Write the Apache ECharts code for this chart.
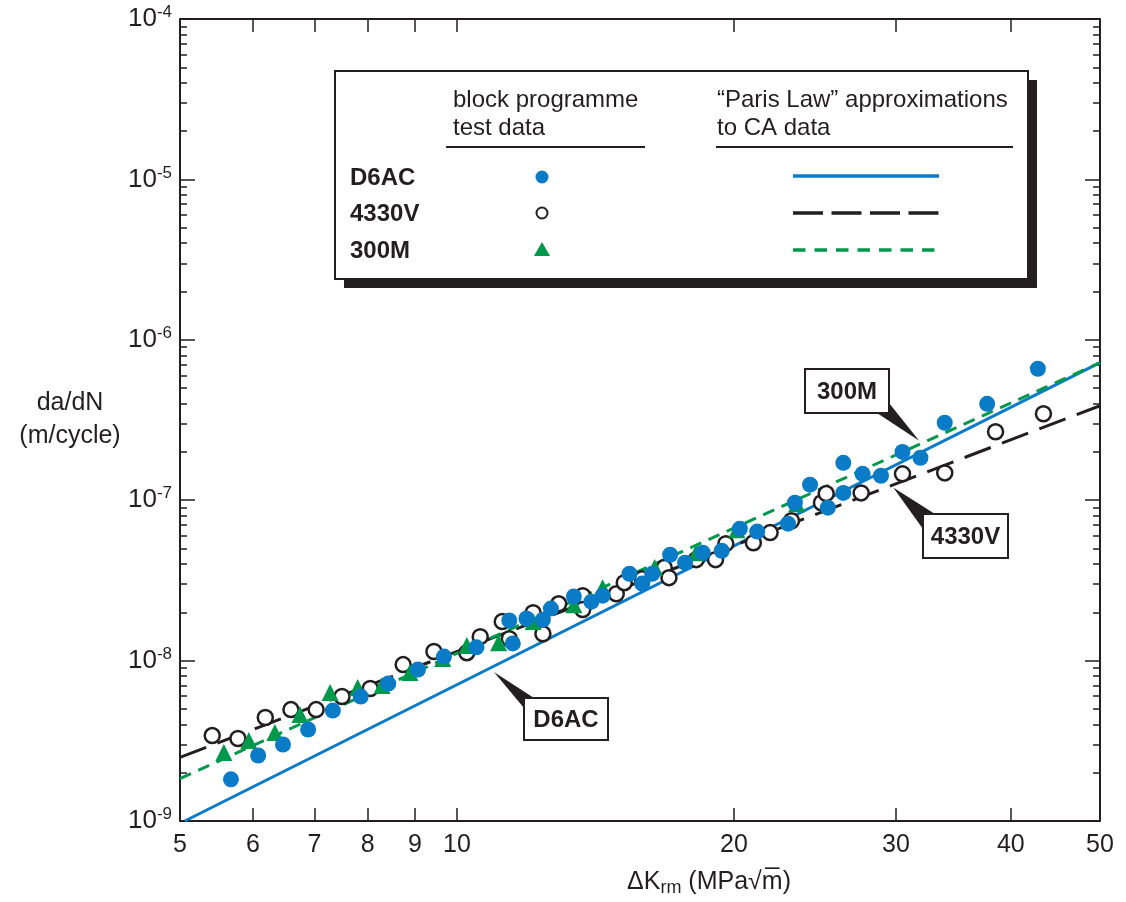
<!DOCTYPE html>
<html>
<head>
<meta charset="utf-8">
<script src="https://cdn.jsdelivr.net/npm/echarts@6/dist/echarts.min.js"></script>
<style>
html,body{margin:0;padding:0;background:#fff;}
#c{width:1126px;height:902px;}
</style>
</head>
<body>
<div id="c"></div>
<script>
// ---- tick values ----
const xTicks = [5, 6, 7, 8, 9, 10, 20, 30, 40, 50];
const yMajor = [1e-9, 1e-8, 1e-7, 1e-6, 1e-5, 1e-4];
const yMinorMult = [2, 3, 4, 5, 6, 7, 8, 9];

// ---- block programme test data (ΔK, da/dN) ----
const d6acK = [5.68, 6.08, 6.47, 6.89, 7.33, 7.86, 8.42, 9.07, 9.68, 10.5,
  11.4, 11.5, 11.9, 12.4, 12.65, 13.4, 14.0, 14.4, 15.4, 15.9,
  16.3, 17.05, 17.7, 18.5, 19.4, 20.3, 21.2, 22.9, 23.3, 24.2,
  25.3, 26.3, 26.3, 27.6, 28.9, 30.5, 31.9, 33.9, 37.7, 42.8];
const d6acRate = [1.82e-9, 2.56e-9, 3.0e-9, 3.72e-9, 4.88e-9, 5.97e-9, 7.19e-9, 8.79e-9, 1.06e-8, 1.21e-8,
  1.78e-8, 1.28e-8, 1.83e-8, 1.80e-8, 2.11e-8, 2.51e-8, 2.33e-8, 2.54e-8, 3.48e-8, 3.02e-8,
  3.48e-8, 4.57e-8, 4.08e-8, 4.71e-8, 4.84e-8, 6.64e-8, 6.37e-8, 7.14e-8, 9.64e-8, 1.25e-7,
  8.98e-8, 1.11e-7, 1.71e-7, 1.46e-7, 1.42e-7, 2.0e-7, 1.84e-7, 3.04e-7, 3.99e-7, 6.6e-7];

const v4330K = [5.42, 5.78, 6.19, 6.60, 7.03, 7.50, 8.05, 8.74, 9.44, 10.25,
  10.6, 11.2, 11.4, 12.1, 12.4, 12.9, 13.7, 13.7, 14.9, 15.2,
  15.9, 16.8, 17.0, 18.2, 19.1, 19.6, 21.0, 21.9, 23.1, 24.9,
  25.2, 27.5, 30.5, 33.9, 38.5, 43.4];
const v4330Rate = [3.41e-9, 3.27e-9, 4.42e-9, 4.95e-9, 4.95e-9, 5.97e-9, 6.70e-9, 9.44e-9, 1.14e-8, 1.12e-8,
  1.41e-8, 1.75e-8, 1.37e-8, 1.99e-8, 1.47e-8, 2.26e-8, 2.54e-8, 2.08e-8, 2.61e-8, 3.06e-8,
  3.24e-8, 3.80e-8, 3.29e-8, 4.26e-8, 4.26e-8, 5.36e-8, 5.43e-8, 6.28e-8, 7.45e-8, 9.64e-8,
  1.10e-7, 1.11e-7, 1.46e-7, 1.48e-7, 2.67e-7, 3.46e-7];

const m300K = [5.58, 5.94, 6.34, 6.75, 7.28, 7.80, 8.29, 8.89, 9.65, 10.25,
  11.1, 12.1, 13.4, 14.4, 16.4, 18.2, 20.15, 23.4];
const m300Rate = [2.67e-9, 3.18e-9, 3.56e-9, 4.61e-9, 6.32e-9, 6.79e-9, 6.99e-9, 8.42e-9, 1.03e-8, 1.24e-8,
  1.29e-8, 1.75e-8, 2.23e-8, 2.85e-8, 3.80e-8, 4.71e-8, 6.55e-8, 9.51e-8];

// ---- "Paris Law" approximations to CA data (end points of straight log-log lines) ----
const d6acFitK = [5.06, 50];
const d6acFitRate = [1.0e-9, 7.2e-7];
const v4330FitK = [5, 50];
const v4330FitRate = [2.49e-9, 3.88e-7];
const m300FitK = [5, 50];
const m300FitRate = [1.84e-9, 7.2e-7];

// ---- annotation anchor points (ΔK, da/dN) of callout pointers ----
const calloutNames = ['D6AC', '300M', '4330V'];
const calloutTipK = [10.97, 31.8, 29.8];
const calloutTipRate = [8.5e-9, 2.35e-7, 1.20e-7];

const BLUE = '#0a7bc6', GREEN = '#00984a', INK = '#231f20';
const FONT = '"Liberation Sans", Arial, Helvetica, sans-serif';

const pairs = (xs, ys) => xs.map((x, i) => [x, ys[i]]);
const yMinor = [];
yMajor.slice(0, -1).forEach(d => yMinorMult.forEach(m => yMinor.push(d * m)));

const chart = echarts.init(document.getElementById('c'), null, {renderer: 'canvas'});

const lineStyleAxis = {color: INK, width: 2};
const tickStyle = {color: INK, width: 1.5};
const xBase = {type: 'log', logBase: 10, min: 5, max: 50, splitLine: {show: false},
  minorTick: {show: false}, minorSplitLine: {show: false}};
const yBase = {type: 'log', logBase: 10, min: 1e-9, max: 1e-4, splitLine: {show: false},
  minorTick: {show: false}, minorSplitLine: {show: false}};

const option = {
  animation: false,
  backgroundColor: '#fff',
  grid: {left: 180, top: 19, width: 920, height: 802, outerBoundsMode: 'none'},
  xAxis: [
    Object.assign({}, xBase, {
      position: 'bottom',
      axisLine: {show: true, onZero: false, lineStyle: lineStyleAxis},
      axisTick: {show: true, inside: true, length: 13, customValues: xTicks, lineStyle: tickStyle},
      axisLabel: {show: true, customValues: xTicks, margin: 12, fontFamily: FONT, fontSize: 25, color: INK},
      name: 'ΔK{sub|rm} (MPa√m\u0305)',
      nameLocation: 'middle',
      nameGap: 61,
      nameTextStyle: {fontFamily: FONT, fontSize: 25, color: INK, verticalAlign: 'middle',
        padding: [0, 0, 0, 138],
        rich: {sub: {fontFamily: FONT, fontSize: 18, color: INK, padding: [12, 0, 0, 0]}}}
    }),
    Object.assign({}, xBase, {
      position: 'top',
      axisLine: {show: true, onZero: false, lineStyle: lineStyleAxis},
      axisTick: {show: true, inside: true, length: 13, customValues: xTicks, lineStyle: tickStyle},
      axisLabel: {show: false}
    })
  ],
  yAxis: [
    Object.assign({}, yBase, {
      position: 'left',
      axisLine: {show: true, onZero: false, lineStyle: lineStyleAxis},
      axisTick: {show: true, inside: true, length: 15, customValues: yMajor, lineStyle: tickStyle},
      axisLabel: {show: true, customValues: yMajor, margin: 8,
        formatter: v => '{b|10}{s|' + Math.round(Math.log10(v)) + '}',
        rich: {
          b: {fontFamily: FONT, fontSize: 26, color: INK},
          s: {fontFamily: FONT, fontSize: 17, color: INK, padding: [0, 0, 13, 0]}
        }},
      name: 'da/dN\n(m/cycle)',
      nameLocation: 'middle',
      nameRotate: 0,
      nameGap: 110,
      nameTextStyle: {fontFamily: FONT, fontSize: 25, color: INK, align: 'center',
        verticalAlign: 'middle', lineHeight: 33}
    }),
    Object.assign({}, yBase, {
      position: 'left',
      axisLine: {show: false},
      axisTick: {show: true, inside: true, length: 7, customValues: yMinor, lineStyle: tickStyle},
      axisLabel: {show: false}
    }),
    Object.assign({}, yBase, {
      position: 'right',
      axisLine: {show: true, onZero: false, lineStyle: lineStyleAxis},
      axisTick: {show: true, inside: true, length: 15, customValues: yMajor, lineStyle: tickStyle},
      axisLabel: {show: false}
    }),
    Object.assign({}, yBase, {
      position: 'right',
      axisLine: {show: false},
      axisTick: {show: true, inside: true, length: 7, customValues: yMinor, lineStyle: tickStyle},
      axisLabel: {show: false}
    })
  ],
  series: [
    {type: 'line', name: 'D6AC Paris', data: pairs(d6acFitK, d6acFitRate), symbol: 'none',
      lineStyle: {color: BLUE, width: 3}, silent: true, z: 1},
    {type: 'line', name: '4330V Paris', data: pairs(v4330FitK, v4330FitRate), symbol: 'none',
      lineStyle: {color: INK, width: 3, type: [28, 12]}, silent: true, z: 1},
    {type: 'line', name: '300M Paris', data: pairs(m300FitK, m300FitRate), symbol: 'none',
      lineStyle: {color: GREEN, width: 3, type: [12, 8]}, silent: true, z: 1},
    {type: 'scatter', name: '4330V', data: pairs(v4330K, v4330Rate), symbol: 'circle', symbolSize: 15,
      itemStyle: {color: '#fff', borderColor: INK, borderWidth: 2.5, opacity: 1}, z: 3},
    {type: 'scatter', name: '300M', data: pairs(m300K, m300Rate), symbol: 'triangle', symbolSize: 17,
      itemStyle: {color: GREEN, opacity: 1}, z: 4},
    {type: 'scatter', name: 'D6AC', data: pairs(d6acK, d6acRate), symbol: 'circle', symbolSize: 16,
      itemStyle: {color: BLUE, opacity: 1}, z: 5}
  ]
};
chart.setOption(option);

// ---- legend table and callouts (graphic layer) ----
const g = [];
const txt = (x, y, text, opt, z) => ({type: 'text', x: x, y: y, silent: true, z: z || 20,
  style: Object.assign({text: text, fontFamily: FONT, fontSize: 24, fill: INK, align: 'left', verticalAlign: 'middle'}, opt || {})});

// legend box with shadow
g.push({type: 'rect', silent: true, z: 18, shape: {x: 344, y: 80, width: 693, height: 208}, style: {fill: INK}});
g.push({type: 'rect', silent: true, z: 19, shape: {x: 335, y: 71, width: 693, height: 208}, style: {fill: '#fff', stroke: INK, lineWidth: 2}});
g.push(txt(453, 100, 'block programme'));
g.push(txt(453, 128, 'test data'));
g.push(txt(717, 100, '\u201CParis Law\u201D approximations'));
g.push(txt(717, 128, 'to CA data'));
g.push({type: 'line', silent: true, z: 20, shape: {x1: 446, y1: 147, x2: 645, y2: 147}, style: {stroke: INK, lineWidth: 2}});
g.push({type: 'line', silent: true, z: 20, shape: {x1: 716, y1: 147, x2: 1013, y2: 147}, style: {stroke: INK, lineWidth: 2}});

const rowY = [177, 213, 250];
const rowNames = ['D6AC', '4330V', '300M'];
rowNames.forEach((n, i) => g.push(txt(350, rowY[i] + 1, n, {fontWeight: 'bold'})));
g.push({type: 'circle', silent: true, z: 20, shape: {cx: 542, cy: rowY[0], r: 6.5}, style: {fill: BLUE}});
g.push({type: 'circle', silent: true, z: 20, shape: {cx: 542, cy: rowY[1], r: 5.5}, style: {fill: '#fff', stroke: INK, lineWidth: 2}});
g.push({type: 'polygon', silent: true, z: 20, shape: {points: [[542, rowY[2] - 8], [550, rowY[2] + 6], [534, rowY[2] + 6]]}, style: {fill: GREEN}});
g.push({type: 'line', silent: true, z: 20, shape: {x1: 793, y1: rowY[0] - 1, x2: 939, y2: rowY[0] - 1}, style: {stroke: BLUE, lineWidth: 3.5}});
g.push({type: 'line', silent: true, z: 20, shape: {x1: 793, y1: rowY[1], x2: 939, y2: rowY[1]}, style: {stroke: INK, lineWidth: 3.5, lineDash: [30, 8.5]}});
g.push({type: 'line', silent: true, z: 20, shape: {x1: 793, y1: rowY[2], x2: 939, y2: rowY[2]}, style: {stroke: GREEN, lineWidth: 3.5, lineDash: [12.5, 9]}});

// callout boxes: [x, y, w, h], and wedge base points
const boxes = [[524, 698, 84, 42], [805, 369, 84, 44], [923, 514, 85, 44]];
const wedgeBase = [[[524, 708], [534, 698]], [[877, 413], [889, 403]], [[923, 529], [935, 514]]];
calloutNames.forEach((n, i) => {
  const tip = chart.convertToPixel({xAxisIndex: 0, yAxisIndex: 0}, [calloutTipK[i], calloutTipRate[i]]);
  g.push({type: 'polygon', silent: true, z: 21, shape: {points: [tip, wedgeBase[i][0], wedgeBase[i][1]]}, style: {fill: INK}});
  const b = boxes[i];
  g.push({type: 'rect', silent: true, z: 22, shape: {x: b[0], y: b[1], width: b[2], height: b[3]}, style: {fill: '#fff', stroke: INK, lineWidth: 2}});
  g.push(txt(b[0] + b[2] / 2, b[1] + b[3] / 2 + 1, n, {fontWeight: 'bold', align: 'center'}, 23));
});
chart.setOption({graphic: g});
</script>
</body>
</html>
